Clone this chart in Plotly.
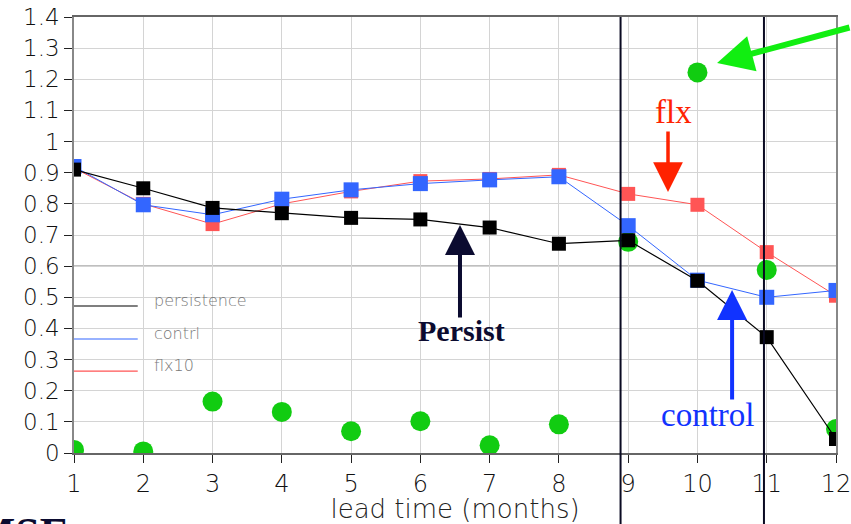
import plotly.graph_objects as go

# lead time in months
lead = [1, 2, 3, 4, 5, 6, 7, 8, 9, 10, 11, 12]

# skill curves
persistence = [0.91, 0.85, 0.787, 0.77, 0.755, 0.75, 0.724, 0.672, 0.683, 0.553, 0.372, 0.045]
contrl = [0.92, 0.797, 0.765, 0.815, 0.845, 0.865, 0.877, 0.887, 0.73, 0.555, 0.50, 0.522]
flx10 = [0.915, 0.80, 0.735, 0.80, 0.84, 0.873, 0.88, 0.893, 0.832, 0.797, 0.645, 0.505]
green_pts = [0.01, 0.005, 0.165, 0.132, 0.07, 0.102, 0.025, 0.092, 0.678, 1.222, 0.588, 0.077]

y_ticks = [0, 0.1, 0.2, 0.3, 0.4, 0.5, 0.6, 0.7, 0.8, 0.9, 1.0, 1.1, 1.2, 1.3, 1.4]
y_tick_text = ["0", "0.1", "0.2", "0.3", "0.4", "0.5", "0.6", "0.7", "0.8", "0.9",
               "1", "1.1", "1.2", "1.3", "1.4"]
x_ticks = lead
x_tick_text = [str(v) for v in lead]

# legend entries drawn inside the plot
legend_names = ["persistence", "contrl", "flx10"]
legend_y = [0.472, 0.366, 0.263]
legend_colors = ["#000000", "#3366ff", "#ff5555"]

# vertical markers
vlines_x = [8.89, 10.96]

fig = go.Figure()

fig.add_trace(go.Scatter(
    x=lead, y=green_pts, mode="markers",
    marker=dict(symbol="circle", size=20, color="#11cc11", line=dict(width=0)),
    showlegend=False))
fig.add_trace(go.Scatter(
    x=lead, y=flx10, mode="lines+markers",
    line=dict(color="#ff5555", width=1),
    marker=dict(symbol="square", size=14, color="#ff5555", line=dict(width=0)),
    showlegend=False))
fig.add_trace(go.Scatter(
    x=lead, y=contrl, mode="lines+markers",
    line=dict(color="#3366ff", width=1),
    marker=dict(symbol="square", size=15, color="#3366ff", line=dict(width=0)),
    showlegend=False))
fig.add_trace(go.Scatter(
    x=lead, y=persistence, mode="lines+markers",
    line=dict(color="#000000", width=1.2),
    marker=dict(symbol="square", size=14, color="#000000", line=dict(width=0)),
    showlegend=False))

shapes = []
# darker reference line at 0.6
shapes.append(dict(type="line", xref="paper", yref="y", x0=0, x1=1, y0=0.6, y1=0.6,
                   line=dict(color="#555555", width=1), layer="below"))
# vertical separators, running past the plot bottom
for xv in vlines_x:
    shapes.append(dict(type="line", xref="x", yref="paper", x0=xv, x1=xv, y0=-0.17, y1=1,
                       line=dict(color="#0a0a22", width=2)))
# legend samples
for yv, c in zip(legend_y, legend_colors):
    shapes.append(dict(type="line", xref="x", yref="y", x0=1, x1=1.92, y0=yv, y1=yv,
                       line=dict(color=c, width=1.2)))

annotations = []
for name, yv in zip(legend_names, legend_y):
    annotations.append(dict(x=2.12, y=yv + 0.018, xref="x", yref="y", text=name,
                            showarrow=False, xanchor="left", yanchor="middle",
                            font=dict(family="DejaVu Sans", size=16, color="#777777", weight=300)))

# labelled arrows
annotations += [
    dict(x=6.572, y=0.732, xref="x", yref="y", ax=0, ay=94, text="",
         showarrow=True, arrowhead=2, arrowsize=1.5, arrowwidth=4, arrowcolor="#0b0b30"),
    dict(x=6.588, y=0.392, xref="x", yref="y", text="<b>Persist</b>", showarrow=False,
         font=dict(family="Liberation Serif", size=30, color="#0b0b30")),
    dict(x=10.50, y=0.523, xref="x", yref="y", ax=0, ay=111, text="",
         showarrow=True, arrowhead=2, arrowsize=1.5, arrowwidth=4, arrowcolor="#1133ff"),
    dict(x=10.138, y=0.122, xref="x", yref="y", text="control", showarrow=False,
         font=dict(family="Liberation Serif", size=33, color="#1133ff")),
    dict(x=9.575, y=0.838, xref="x", yref="y", ax=0, ay=-62, text="",
         showarrow=True, arrowhead=2, arrowsize=1.7, arrowwidth=3.5, arrowcolor="#ff2200"),
    dict(x=9.65, y=1.094, xref="x", yref="y", text="flx", showarrow=False,
         font=dict(family="Liberation Serif", size=33, color="#ff2200")),
    dict(x=10.283, y=1.252, xref="x", yref="y", ax=134, ay=-36, text="",
         showarrow=True, arrowhead=2, arrowsize=1.2, arrowwidth=6, arrowcolor="#11ee11"),
    # heading of the next block, running off the bottom edge
    dict(x=-0.004, y=-0.1239, xref="paper", yref="paper", text="<b>RMSE</b>",
         showarrow=False, xanchor="right", yanchor="top",
         font=dict(family="Liberation Serif", size=44, color="#0b0b30")),
]

fig.update_layout(
    width=851, height=524,
    margin=dict(l=74, r=15, t=17, b=71, autoexpand=False),
    paper_bgcolor="white", plot_bgcolor="white",
    shapes=shapes, annotations=annotations,
    showlegend=False,
    xaxis=dict(range=[1, 12], tickvals=x_ticks, ticktext=x_tick_text,
               showgrid=True, gridcolor="#d4d4d4", gridwidth=1, automargin=False,
               ticklabeloverflow="allow",
               zeroline=False, showline=True, linecolor="#666666", linewidth=1.5,
               mirror=True, ticks="outside", ticklen=8, tickcolor="#222222",
               tickfont=dict(family="DejaVu Sans", size=24, color="#111111", weight=300),
               title=dict(text="lead time (months)", standoff=4,
                          font=dict(family="DejaVu Sans", size=26, color="#222222", weight=300))),
    yaxis=dict(range=[0, 1.4], tickvals=y_ticks, ticktext=y_tick_text,
               showgrid=True, gridcolor="#d4d4d4", gridwidth=1, automargin=False,
               ticklabeloverflow="allow",
               zeroline=False, showline=True, linecolor="#888888", linewidth=1.5,
               mirror=True, ticks="outside", ticklen=8, tickcolor="#222222",
               tickfont=dict(family="DejaVu Sans", size=23, color="#111111", weight=300)),
)

fig.write_html("out.html")
